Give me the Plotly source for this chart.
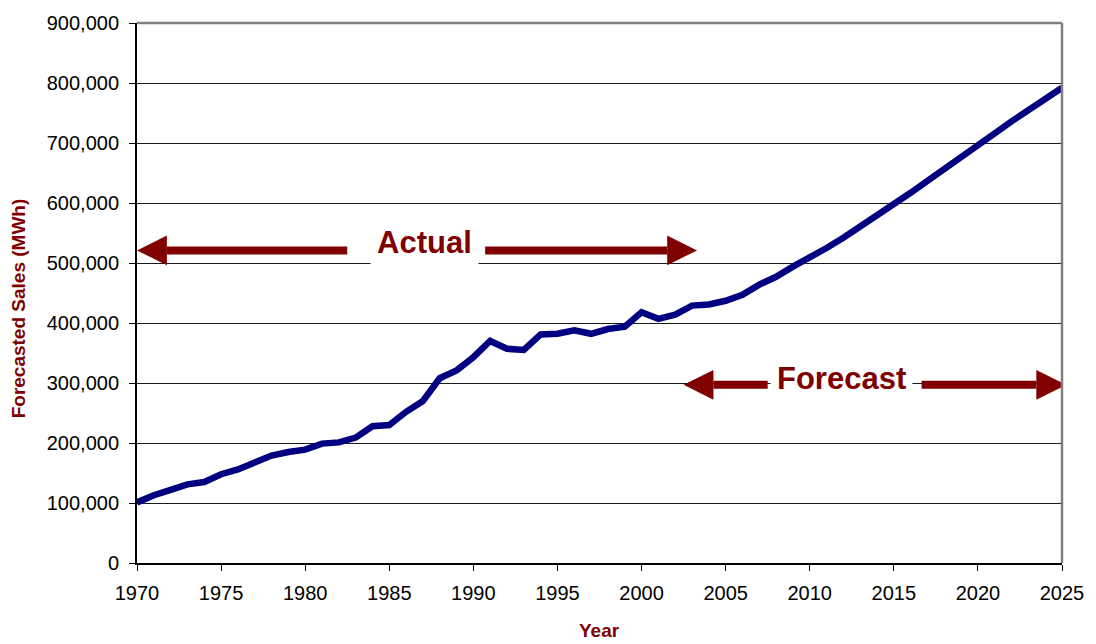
import plotly.graph_objects as go

# Annual electricity sales, actual history through 2002 and forecast to 2025
years = list(range(1970, 2026))
sales_mwh = [
    101000, 113000, 122000, 131000, 135000, 148000, 156000, 167000, 179000, 185000,
    189000, 199000, 201000, 209000, 228000, 230000, 252000, 270000, 308000, 321000,
    343000, 370000, 357000, 355000, 381000, 382000, 388000, 382000, 390000, 394000,
    418000, 407000, 414000, 429000, 431000, 437000, 447000, 464000, 477000, 494000,
    508000, 525000, 542000, 560000, 579000, 598000, 617000, 637000, 656000, 676000,
    697000, 716000, 736000, 754000, 773000, 792000,
]

# Period markers drawn as double-headed arrows with a label in the middle
period_labels = ["Actual", "Forecast"]
period_start = [1970.0, 2002.5]
period_end = [2003.3, 2025.25]
period_level = [521000, 297000]
label_year = [1987.1, 2011.9]
label_level = [535000, 308000]
gap_start = [1982.5, 2007.5]
gap_end = [1990.7, 2016.65]

y_ticks = list(range(0, 900001, 100000))
x_ticks = list(range(1970, 2026, 5))

W, H = 1096, 644
M = dict(l=137, r=30, t=17, b=81)
X_RANGE = [1970, 2025]
Y_RANGE = [0, 900000]
plot_w = W - M["l"] - M["r"]
plot_h = H - M["t"] - M["b"]
yr_per_px = (X_RANGE[1] - X_RANGE[0]) / plot_w
val_per_px = (Y_RANGE[1] - Y_RANGE[0]) / plot_h

DARK_RED = "#800000"
NAVY = "#000080"
FONT = "Liberation Sans, Arial, sans-serif"

fig = go.Figure()
fig.add_trace(go.Scatter(
    x=years, y=sales_mwh, mode="lines",
    line=dict(color=NAVY, width=6.5),
    hoverinfo="x+y", showlegend=False, cliponaxis=False,
))

shapes = []
annotations = []
head_len = 30 * yr_per_px
head_half = 15 * val_per_px
for lab, x0, x1, yv, lx, ly, g0, g1 in zip(period_labels, period_start, period_end,
                                           period_level, label_year, label_level,
                                           gap_start, gap_end):
    # shafts on each side of the label
    shapes.append(dict(type="line", xref="x", yref="y", x0=x0 + head_len, x1=g0,
                       y0=yv, y1=yv, line=dict(color=DARK_RED, width=8), layer="above"))
    shapes.append(dict(type="line", xref="x", yref="y", x0=g1, x1=x1 - head_len,
                       y0=yv, y1=yv, line=dict(color=DARK_RED, width=8), layer="above"))
    # arrow heads
    left = (f"M {x0} {yv} L {x0 + head_len} {yv + head_half} "
            f"L {x0 + head_len} {yv - head_half} Z")
    right = (f"M {x1} {yv} L {x1 - head_len} {yv + head_half} "
             f"L {x1 - head_len} {yv - head_half} Z")
    for p in (left, right):
        shapes.append(dict(type="path", xref="x", yref="y", path=p,
                           fillcolor=DARK_RED, line=dict(width=0), layer="above"))
    annotations.append(dict(
        x=lx, y=ly, xref="x", yref="y", text=f"<b>{lab}</b>", showarrow=False,
        xanchor="center", yanchor="middle",
        font=dict(family=FONT, size=31, color=DARK_RED),
        bgcolor="white", borderpad=6,
    ))

# gray frame on the top and right of the plot area
shapes.append(dict(type="line", xref="paper", yref="paper", x0=0, x1=1, y0=1, y1=1,
                   line=dict(color="#808080", width=2.5), layer="above"))
shapes.append(dict(type="line", xref="paper", yref="paper", x0=1, x1=1, y0=0, y1=1,
                   line=dict(color="#808080", width=2.5), layer="above"))

# axis titles, placed by pixel offsets from the plot area
bottom_px = H - M["b"]
annotations.append(dict(
    x=(18 - M["l"]) / plot_w, y=(bottom_px - 306) / plot_h, xref="paper", yref="paper",
    text="<b>Forecasted Sales (MWh)</b>", showarrow=False, textangle=-90,
    xanchor="center", yanchor="middle",
    font=dict(family=FONT, size=19, color=DARK_RED),
))
annotations.append(dict(
    x=(601 - M["l"]) / plot_w, y=-(631 - bottom_px) / plot_h,
    xref="paper", yref="paper", text="<b>Year</b>", showarrow=False,
    xanchor="center", yanchor="middle",
    font=dict(family=FONT, size=19, color=DARK_RED),
))

fig.update_layout(
    width=W, height=H, margin=M,
    paper_bgcolor="white", plot_bgcolor="white",
    font=dict(family=FONT, size=20, color="black"),
    xaxis=dict(
        range=X_RANGE, tickvals=x_ticks, ticktext=[str(t) for t in x_ticks],
        showgrid=False, zeroline=False, showline=True, linecolor="black", linewidth=2,
        ticks="outside", ticklen=6, tickcolor="black", tickwidth=1, ticklabelstandoff=5,
    ),
    yaxis=dict(
        range=Y_RANGE, tickvals=y_ticks, ticktext=[f"{v:,}" for v in y_ticks],
        showgrid=True, gridcolor="#1a1a1a", gridwidth=1, zeroline=False,
        showline=True, linecolor="black", linewidth=2,
        ticks="outside", ticklen=6, tickcolor="black", tickwidth=1, ticklabelstandoff=6,
    ),
    shapes=shapes, annotations=annotations,
)

fig.write_html("out.html")
